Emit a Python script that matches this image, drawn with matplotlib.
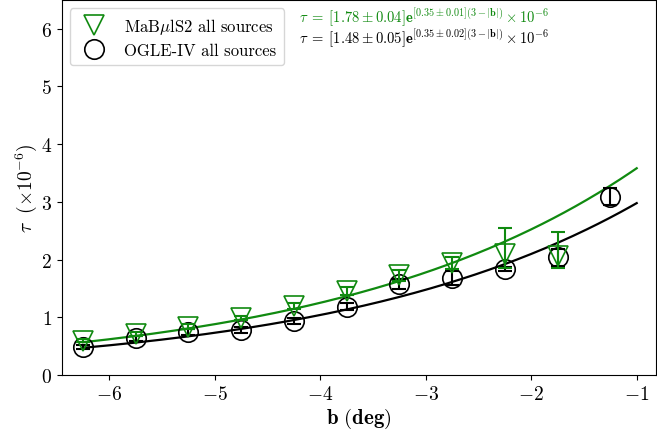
import numpy as np
import matplotlib
matplotlib.use("Agg")
import matplotlib.pyplot as plt

plt.rcParams['font.family'] = 'serif'
plt.rcParams['font.serif'] = ['cmr10', 'DejaVu Serif']
plt.rcParams['mathtext.fontset'] = 'cm'
plt.rcParams['axes.formatter.use_mathtext'] = True

# galactic latitude bins (deg)
b_ogle = [-6.25, -5.75, -5.25, -4.75, -4.25, -3.75, -3.25, -2.75, -2.25, -1.75, -1.25]
tau_ogle = [0.49, 0.64, 0.75, 0.78, 0.94, 1.19, 1.58, 1.69, 1.84, 2.04, 3.09]
err_ogle = [0.04, 0.04, 0.05, 0.05, 0.05, 0.06, 0.08, 0.12, 0.04, 0.15, 0.15]

b_mab = [-6.25, -5.75, -5.25, -4.75, -4.25, -3.75, -3.25, -2.75, -2.25, -1.75]
tau_mab = [0.60, 0.71, 0.84, 0.99, 1.20, 1.46, 1.73, 1.94, 2.10, 2.07]
err_mab_lo = [0.03, 0.03, 0.04, 0.04, 0.05, 0.07, 0.09, 0.10, 0.25, 0.22]
err_mab_hi = [0.03, 0.03, 0.04, 0.04, 0.05, 0.07, 0.09, 0.10, 0.45, 0.41]

# exponential fits: tau = A exp(k (3 - |b|))
A_mab, k_mab = 1.78, 0.35
A_ogle, k_ogle = 1.48, 0.35

green = '#108a10'

fig = plt.figure(figsize=(6.57, 4.39), dpi=100)
ax = fig.add_axes([0.094, 0.143, 0.904, 0.855])

bb = np.linspace(-6.25, -1.0, 200)
ax.plot(bb, A_mab * np.exp(k_mab * (3 - np.abs(bb))), color=green, lw=1.6)
ax.plot(bb, A_ogle * np.exp(k_ogle * (3 - np.abs(bb))), color='black', lw=1.6)

ax.errorbar(b_ogle, tau_ogle, yerr=err_ogle, fmt='none', ecolor='black',
            capsize=5, elinewidth=1.5, capthick=1.5)
ax.plot(b_ogle, tau_ogle, 'o', ms=14, mfc='none', mec='black', mew=1.2,
        label='OGLE-IV all sources')
ax.errorbar(b_mab, tau_mab, yerr=[err_mab_lo, err_mab_hi], fmt='none', ecolor=green,
            capsize=5, elinewidth=1.5, capthick=1.5)
ax.plot(b_mab, tau_mab, 'v', ms=14, mfc='none', mec=green, mew=1.2,
        label=r'MaB$\mu$lS2 all sources')

ax.set_xlim(-6.45, -0.82)
ax.set_ylim(0, 6.5)
ax.set_xticks([-6, -5, -4, -3, -2, -1])
ax.tick_params(labelsize=14)
ax.set_xlabel(r'$\mathbf{b\ (deg)}$', fontsize=15, labelpad=2)
ax.set_ylabel(r'$\tau\ \ (\times \mathbf{10^{-6}})$', fontsize=14, labelpad=1)

h, l = ax.get_legend_handles_labels()
ax.legend(h[::-1], l[::-1], loc='upper left', fontsize=12, borderpad=0.45,
          handletextpad=0.8, labelspacing=0.4)

ax.text(0.40, 0.955,
        r'$\tau\;=\;[\mathbf{1.78 \pm 0.04}]\mathbf{e}^{[\mathbf{0.35 \pm 0.01}](\mathbf{3 - |b|})} \times \mathbf{10^{-6}}$',
        transform=ax.transAxes, color=green, fontsize=10.5, va='center')
ax.text(0.40, 0.9,
        r'$\tau\;=\;[\mathbf{1.48 \pm 0.05}]\mathbf{e}^{[\mathbf{0.35 \pm 0.02}](\mathbf{3 - |b|})} \times \mathbf{10^{-6}}$',
        transform=ax.transAxes, color='black', fontsize=10.5, va='center')

fig.savefig('out.png', dpi=100)
